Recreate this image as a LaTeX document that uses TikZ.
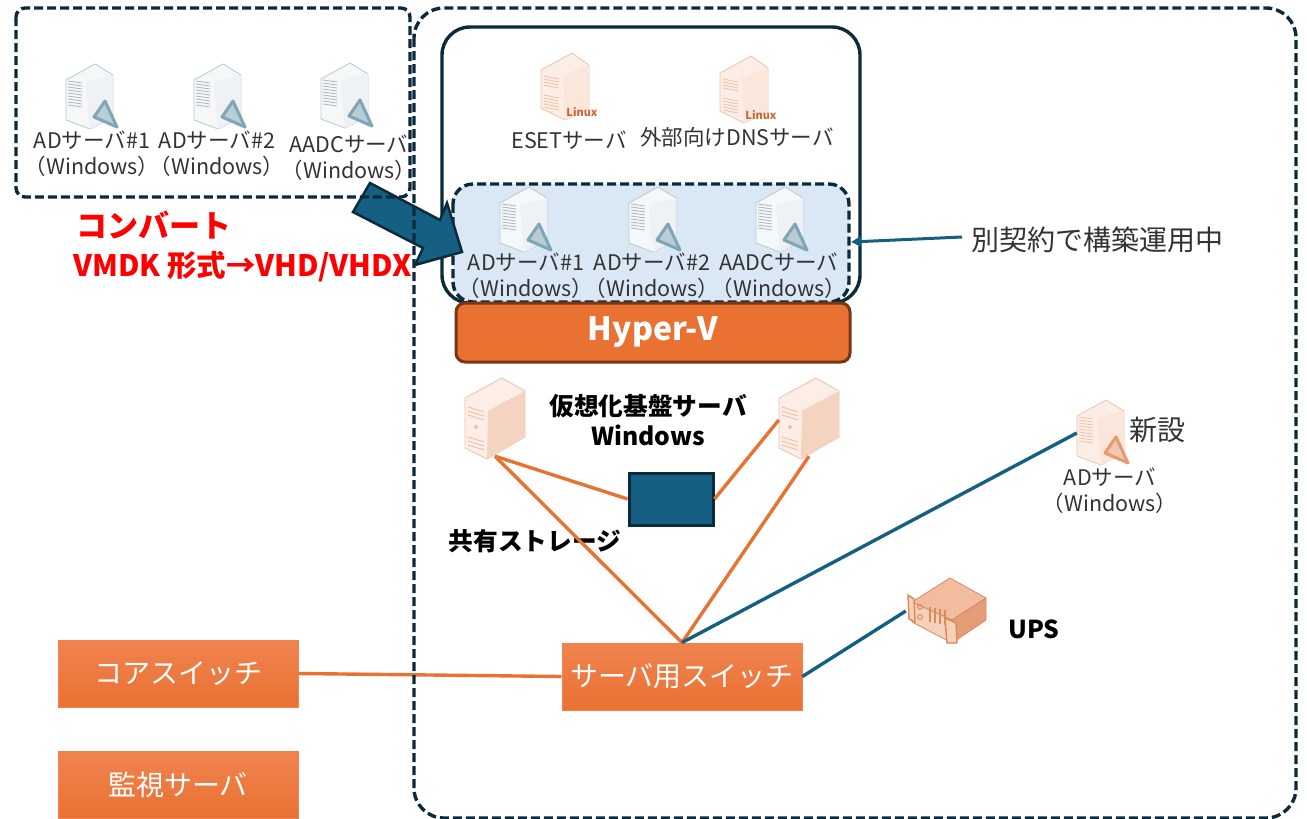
\documentclass[tikz,border=0pt]{standalone}
\usepackage{fontspec}
\setmainfont{Noto Sans CJK JP}
\usepackage{tikz}
\usetikzlibrary{arrows.meta}
\definecolor{navyline}{HTML}{0B2A3C}
\definecolor{tealfill}{HTML}{156082}
\definecolor{orangefill}{HTML}{E97132}
\definecolor{orangetop}{HTML}{F0834F}
\definecolor{hyperline}{HTML}{7A3512}
\definecolor{paleblue}{HTML}{DAE8F6}
\definecolor{labelgrey}{HTML}{333333}
\tikzset{
	pics/srvbadge/.style n args={5}{code={
		\draw[#3,line width=.8pt,fill=#1,line join=round] (3,-32) -- (-26,-16) -- (-26,24) -- (-2,33) -- (21,21) -- (21,-21) -- cycle;
		\fill[#2] (-6,-14) -- (21,-21) -- (21,21) -- (-2,33) -- cycle;
		\foreach \v in {-15,-12,-9,-6,-3,0,3,6,9}
			\draw[#5,line width=.8pt] (-24,\v) -- (-10,\v+2);
		\draw[#4,fill=#4!55!white,line width=3pt,line join=round] (13,5) -- (2,21) -- (25,31) -- cycle;
	}},
	pics/srvlinux/.style={code={
		\draw[srvpeachline,line width=.8pt,fill=srvpeach,line join=round] (5,-32) -- (-26,-15) -- (-26,23) -- (-2,35) -- (22,24) -- (22,-20) -- cycle;
		\fill[srvpeachside] (-4,-10) -- (22,-20) -- (22,24) -- (-2,35) -- cycle;
		\foreach \v in {-9,-6,-3,0,10,13,16,19,22}
			\draw[srvpeachline,line width=.8pt] (-23,\v) -- (-8,\v+3);
		\node[text=linuxtext,font=\fontsize{11}{11}\selectfont\bfseries,inner sep=0] (-lx) at (15,27) {Linux};
	}},
	pics/srvtower/.style={code={
		\fill[srvpeach,draw=srvpeachline,line width=.8pt,line join=round] (-30,-21) -- (7,-41) -- (30,-28) -- (30,18) -- (-8,40) -- (-30,29) -- cycle;
		\fill[srvtowerside] (-7,-8) -- (30,-28) -- (30,18) -- (-8,40) -- cycle;
		\foreach \v in {-12,-8,-4,18,22,26}
			\draw[srvpeachline,line width=1pt] (-27,\v) -- (-11,\v+5);
		\fill[srvpeachline] (-19,8) circle (2pt);
	}},
	pics/srvups/.style={code={
		\draw[upsline,fill=upstop,line width=.8pt,line join=round] (3,-33) -- (-35,-9) -- (5,9) -- (39,-13) -- cycle;
		\fill[upsside] (5,9) -- (39,-13) -- (39,9) -- (5,32) -- cycle;
		\fill[upsfront] (-35,-9) -- (5,9) -- (5,32) -- (-35,11) -- cycle;
		\draw[upsline,line width=.8pt] (-35,-9) -- (5,9) -- (39,-13) (5,9) -- (5,32) -- (39,9) -- (39,-13) (-35,-9) -- (-35,11) -- (5,32);
		\draw[upsline,fill=upsfront,line width=1.4pt] (-39,-16) -- (-33,-12) -- (-32,11) -- (-38,8) -- cycle;
		\draw[upsline,fill=upsfront,line width=1.4pt] (-2,7) -- (9,12) -- (10,32) -- (0,32) -- cycle;
		\foreach \v in {-17,-12,-7,-2}
			\draw[upsline,line width=1.8pt] (\v,-1+\v*.2) -- (\v,14+\v*.2);
		\draw[upsline,line width=1pt] (-27,-4) circle (2.4pt) (-27,6) circle (2.4pt);
	}},
	iconspot/.style={inner sep=0,minimum width=#1,minimum height=72pt},
	srvlabel/.style={align=center,inner sep=0,text=labelgrey,font=\fontsize{21.5}{26}\selectfont},
	boldlabel/.style={align=center,inner sep=0,text=black,font=\fontsize{24.7}{30}\selectfont\bfseries},
	swbox/.style={inner sep=0,minimum width=240pt,minimum height=67pt,top color=orangetop,bottom color=orangefill,draw=orangetop,line width=.8pt,text=white,font=\fontsize{28}{28}\selectfont},
	dashbox/.style={navyline,line width=3.4pt,dash pattern=on 9pt off 4pt},
	orangelink/.style={orangefill,line width=3.4pt},
	teallink/.style={tealfill,line width=3.4pt},
}
\definecolor{srvpeach}{HTML}{FCEEE6}
\definecolor{srvpeachside}{HTML}{FAE6DA}
\definecolor{srvpeachline}{HTML}{EDC2AA}
\definecolor{srvtowerside}{HTML}{F4D3C0}
\definecolor{linuxtext}{HTML}{C8693A}
\definecolor{srvsilver}{HTML}{F5F7F8}
\definecolor{srvsilverside}{HTML}{EEF2F4}
\definecolor{srvsilverline}{HTML}{B7CAD1}
\definecolor{ventgrey}{HTML}{A9B7BE}
\definecolor{badgeblue}{HTML}{7FA5B6}
\definecolor{badgeorange}{HTML}{E59A70}
\definecolor{upstop}{HTML}{F2BC9E}
\definecolor{upsside}{HTML}{E39E78}
\definecolor{upsfront}{HTML}{F6D0B8}
\definecolor{upsline}{HTML}{D98A5F}
\begin{document}
\begin{tikzpicture}[x=1pt,y=-1pt]
	\useasboundingbox (0,0) rectangle (1307,819);

	% inner boxes
	\draw[navyline,line width=3.4pt,rounded corners=28pt] (442,27) rectangle (860,303);
	\fill[paleblue,rounded corners=20pt] (453,184) rectangle (849,302);
	\draw[dashbox,rounded corners=20pt] (453,184) rectangle (849,302);
	\path (653,332.5) node[draw=hyperline,fill=orangefill,line width=3pt,rounded corners=9pt,minimum width=394pt,minimum height=59pt,inner sep=0,text=white,font=\fontsize{32}{32}\selectfont\bfseries] (hyperv) {\raisebox{-2pt}{Hyper-V}};

	% icons
	\path (92,96) pic {srvbadge={srvsilver}{srvsilverside}{srvsilverline}{badgeblue}{ventgrey}}
		(220,96) pic {srvbadge={srvsilver}{srvsilverside}{srvsilverline}{badgeblue}{ventgrey}}
		(347,95) pic {srvbadge={srvsilver}{srvsilverside}{srvsilverline}{badgeblue}{ventgrey}}
		(526,219) pic {srvbadge={srvsilver}{srvsilverside}{srvsilverline}{badgeblue}{ventgrey}}
		(655,219) pic {srvbadge={srvsilver}{srvsilverside}{srvsilverline}{badgeblue}{ventgrey}}
		(782,219) pic {srvbadge={srvsilver}{srvsilverside}{srvsilverline}{badgeblue}{ventgrey}}
		(1103,432) pic {srvbadge={srvpeach}{srvpeachside}{srvpeachline}{badgeorange}{srvpeachline}}
		(567,85) pic (eset) {srvlinux}
		(746,88) pic (dns) {srvlinux}
		(495,419) pic {srvtower}
		(809,419) pic {srvtower}
		(947,611) pic {srvups};

	\path (495,420) node[iconspot=60pt] (hv1) {}
		(809,420) node[iconspot=60pt] (hv2) {}
		(1104,433) node[iconspot=54pt] (adnew) {}
		(947,611) node[iconspot=82pt] (ups) {};

	% labels
	\path (92,154) node[srvlabel] (lsrc1) {ADサーバ\#1\\（Windows）}
		(217,154) node[srvlabel] (lsrc2) {ADサーバ\#2\\（Windows）}
		(349,158) node[srvlabel] (lsrc3) {AADCサーバ\\（Windows）}
		(526,275.5) node[srvlabel] (ldst1) {ADサーバ\#1\\（Windows）}
		(652,275.5) node[srvlabel] (ldst2) {ADサーバ\#2\\（Windows）}
		(779,275.5) node[srvlabel] (ldst3) {AADCサーバ\\（Windows）}
		(569,140) node[srvlabel] (leset) {ESETサーバ}
		(737,137) node[srvlabel] (ldns) {外部向けDNSサーバ}
		(1110,491) node[srvlabel] (ladnew) {ADサーバ\\（Windows）}
		(1157,430) node[srvlabel,font=\fontsize{28}{28}\selectfont] (lnew) {新設}
		(1097,240) node[srvlabel,font=\fontsize{28}{28}\selectfont] (lcontract) {別契約で構築運用中}
		(648,420) node[boldlabel] (lhost) {仮想化基盤サーバ\\Windows}
		(535,541) node[boldlabel] (lstorage) {共有ストレージ}
		(1034,629) node[boldlabel] (lups) {UPS};
	\path (76,225) node[anchor=west,inner sep=0,text=red,font=\fontsize{31}{31}\selectfont\bfseries] (lconv) {コンバート}
		(73,267) node[anchor=west,inner sep=0,text=red,font=\fontsize{29.5}{29.5}\selectfont\bfseries] (lformat) {VMDK 形式→VHD/VHDX};

	% storage and switches
	\path (671,499) node[draw=navyline,fill=tealfill,line width=3pt,minimum width=84pt,minimum height=52pt,inner sep=0] (storage) {};
	\path (178,673.5) node[swbox] (coresw) {コアスイッチ}
		(178,785) node[swbox] (monitor) {監視サーバ}
		(682,676.5) node[swbox] (serversw) {サーバ用スイッチ};

	\draw[orangelink] (hv1.south) -- (storage.west);
	\draw[orangelink] (hv1.south) -- (serversw.north);
	\draw[orangelink] (hv2.west) -- (storage.east);
	\draw[orangelink] (hv2.south) -- (serversw.north);
	\draw[orangelink] (coresw.east) -- (serversw.west);
	\draw[teallink] (serversw.north) -- (adnew.west);
	\draw[teallink] (serversw.east) -- (ups.west);

	% convert arrow and outer boxes
	\filldraw[fill=tealfill,draw=navyline,line width=2.5pt,line join=miter] (370,183) -- (440,220) -- (447,203) -- (462,252) -- (415,265) -- (423,248) -- (353,212) -- cycle;
	\draw[dashbox,rounded corners=9pt] (16,8) rectangle (410,197);
	\draw[dashbox,rounded corners=30pt] (414,8) rectangle (1296,818);

	\coordinate (contractend) at (962,237);
	\draw[tealfill,line width=3pt,-{Triangle[length=10pt,width=10pt]}] (contractend) -- (851,242);
\end{tikzpicture}
\end{document}
